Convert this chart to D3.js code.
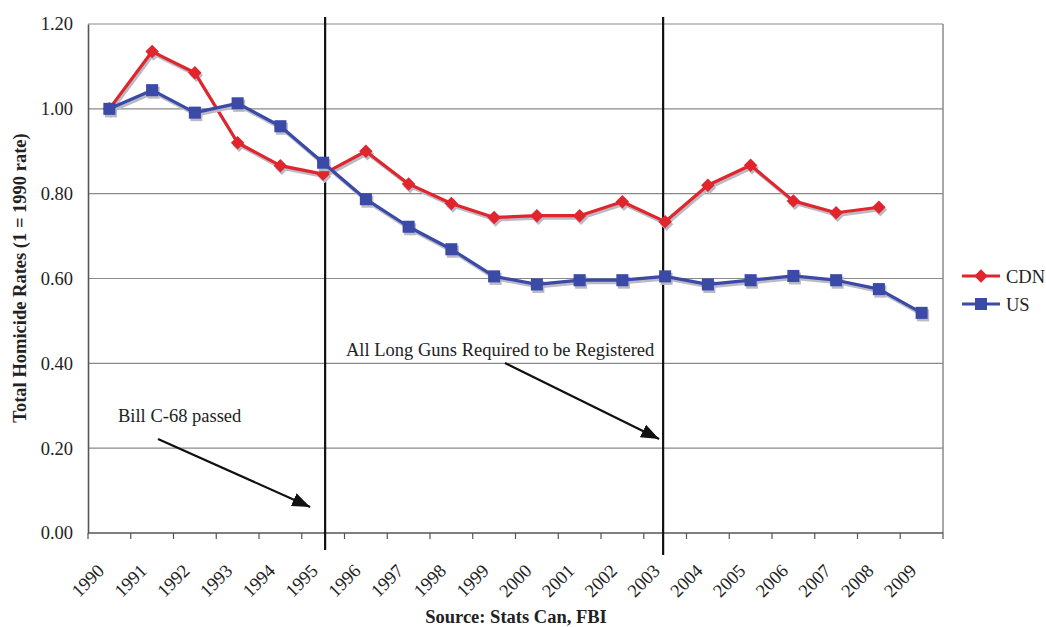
<!DOCTYPE html>
<html>
<head>
<meta charset="utf-8">
<script src="https://cdn.jsdelivr.net/npm/d3@7"></script>
<style>
  body { margin: 0; background: #fff; }
  svg text { font-family: "Liberation Serif", "Times New Roman", Times, Tinos, "DejaVu Serif", serif !important; }
</style>
</head>
<body>
<svg id="chart" width="1046" height="627"></svg>
<script>
const years = ["1990","1991","1992","1993","1994","1995","1996","1997","1998","1999",
               "2000","2001","2002","2003","2004","2005","2006","2007","2008","2009"];
const cdn = [1.00, 1.135, 1.085, 0.920, 0.866, 0.846, 0.900, 0.823, 0.777, 0.744,
             0.748, 0.748, 0.781, 0.734, 0.820, 0.867, 0.783, 0.755, 0.768, null];
const us  = [1.00, 1.044, 0.991, 1.013, 0.959, 0.873, 0.787, 0.722, 0.669, 0.605,
             0.586, 0.596, 0.596, 0.605, 0.586, 0.596, 0.606, 0.596, 0.575, 0.519];
const yTicks = [0, 0.2, 0.4, 0.6, 0.8, 1.0, 1.2];
const seriesNames = ["CDN", "US"];
const annotations = [
  { label: "Bill C-68 passed", year: "1995" },
  { label: "All Long Guns Required to be Registered", year: "2003" }
];

const RED = "#e0252d", BLUE = "#3b4aa6", SHADOW = "#b9bac6";
const FONT = "18.5px";
const svg = d3.select("#chart");
const L = 88, R = 943, T = 24, B = 533;

const x = d3.scaleBand().domain(years).range([L, R]);
const y = d3.scaleLinear().domain([0, 1.2]).range([B, T]);
const cx = d => x(d) + x.bandwidth() / 2;

// gridlines
svg.append("g").selectAll("line").data(yTicks.filter(v => v > 0)).join("line")
  .attr("x1", L).attr("x2", R)
  .attr("y1", d => y(d)).attr("y2", d => y(d))
  .attr("stroke", "#8a8a8a").attr("stroke-width", 1.2);
svg.append("line").attr("x1", R).attr("x2", R).attr("y1", T).attr("y2", B)
  .attr("stroke", "#8a8a8a").attr("stroke-width", 1.5);

// y axis
const yAxis = d3.axisLeft(y).tickValues(yTicks).tickFormat(d3.format(".2f")).tickSize(0).tickPadding(15);
const gy = svg.append("g").attr("transform", `translate(${L},0)`).call(yAxis);
gy.attr("font-family", null).attr("font-size", null);
gy.select(".domain").attr("stroke", "#555").attr("stroke-width", 1.6);
gy.selectAll("text").attr("font-size", FONT).attr("fill", "#222");

// x axis
const gx = svg.append("g").attr("transform", `translate(0,${B})`);
gx.append("line").attr("x1", L).attr("x2", R).attr("stroke", "#555").attr("stroke-width", 1.6);
const bounds = years.map(d => x(d)).concat([R]);
gx.selectAll("line.tick").data(bounds).join("line").attr("class", "tick")
  .attr("x1", d => d).attr("x2", d => d).attr("y1", 0).attr("y2", 6)
  .attr("stroke", "#555").attr("stroke-width", 1.2);
gx.selectAll("text").data(years).join("text")
  .attr("transform", d => `translate(${cx(d) - 4},${39}) rotate(-45)`)
  .attr("text-anchor", "end")
  .attr("font-size", FONT).attr("fill", "#222")
  .text(d => d);

// vertical annotation lines
const vShift = [2, -2];
svg.append("g").selectAll("line").data(annotations).join("line")
  .attr("x1", (d, i) => cx(d.year) + vShift[i]).attr("x2", (d, i) => cx(d.year) + vShift[i])
  .attr("y1", 17).attr("y2", (d, i) => i === 0 ? 550 : 555)
  .attr("stroke", "#111").attr("stroke-width", 2.2);

// series
function drawSeries(vals, color, shape, size) {
  const pts = years.map((yr, i) => ({ yr, v: vals[i] })).filter(p => p.v != null);
  const line = d3.line().x(p => cx(p.yr)).y(p => y(p.v));
  const sym = d3.symbol().type(shape).size(size);
  const g = svg.append("g");
  g.append("path").datum(pts).attr("d", line).attr("fill", "none")
    .attr("stroke", SHADOW).attr("stroke-width", 3.2).attr("transform", "translate(1.5,2.5)");
  g.selectAll("path.sh").data(pts).join("path").attr("class", "sh")
    .attr("d", sym).attr("fill", SHADOW)
    .attr("transform", p => `translate(${cx(p.yr) + 1.5},${y(p.v) + 2.5})`);
  g.append("path").datum(pts).attr("d", line).attr("fill", "none")
    .attr("stroke", color).attr("stroke-width", 3.2).attr("stroke-linejoin", "round");
  g.selectAll("path.mk").data(pts).join("path").attr("class", "mk")
    .attr("d", sym).attr("fill", color)
    .attr("transform", p => `translate(${cx(p.yr)},${y(p.v)})`);
}
drawSeries(cdn, RED, d3.symbolDiamond2, 115);
drawSeries(us, BLUE, d3.symbolSquare2, 185);

// arrows
const defs = svg.append("defs");
defs.append("marker").attr("id", "ah").attr("viewBox", "0 0 18 14")
  .attr("refX", 18).attr("refY", 7).attr("markerWidth", 18).attr("markerHeight", 14)
  .attr("markerUnits", "userSpaceOnUse").attr("orient", "auto")
  .append("path").attr("d", "M0,0 L18,7 L0,14 Z").attr("fill", "#111");

const annG = svg.append("g");
annG.append("text").attr("x", 118).attr("y", 422).attr("font-size", FONT).attr("fill", "#222")
  .text(annotations[0].label);
annG.append("line").attr("x1", 158).attr("y1", 439).attr("x2", cx(annotations[0].year) - 13).attr("y2", 507)
  .attr("stroke", "#111").attr("stroke-width", 2.2).attr("marker-end", "url(#ah)");
annG.append("text").attr("x", 346).attr("y", 356).attr("font-size", FONT).attr("fill", "#222")
  .text(annotations[1].label);
annG.append("line").attr("x1", 505).attr("y1", 363).attr("x2", cx(annotations[1].year) - 6).attr("y2", 439)
  .attr("stroke", "#111").attr("stroke-width", 2.2).attr("marker-end", "url(#ah)");

// y title
svg.append("text").attr("transform", "translate(26,278) rotate(-90)")
  .attr("text-anchor", "middle").attr("font-size", FONT).attr("font-weight", "bold").attr("fill", "#222")
  .text("Total Homicide Rates (1 = 1990 rate)");

// x title
svg.append("text").attr("x", 516).attr("y", 623).attr("text-anchor", "middle")
  .attr("font-size", FONT).attr("font-weight", "bold").attr("fill", "#222")
  .text("Source: Stats Can, FBI");

// legend
const leg = svg.append("g");
const legendItems = [
  { name: seriesNames[0], color: RED, shape: d3.symbolDiamond2, size: 115, y: 276 },
  { name: seriesNames[1], color: BLUE, shape: d3.symbolSquare2, size: 185, y: 304 }
];
legendItems.forEach(it => {
  leg.append("line").attr("x1", 962).attr("x2", 1000).attr("y1", it.y).attr("y2", it.y)
    .attr("stroke", it.color).attr("stroke-width", 3.2);
  leg.append("path").attr("d", d3.symbol().type(it.shape).size(it.size)())
    .attr("fill", it.color).attr("transform", `translate(981,${it.y})`);
  leg.append("text").attr("x", 1006).attr("y", it.y + 7).attr("font-size", FONT).attr("fill", "#222")
    .text(it.name);
});
</script>
</body>
</html>
